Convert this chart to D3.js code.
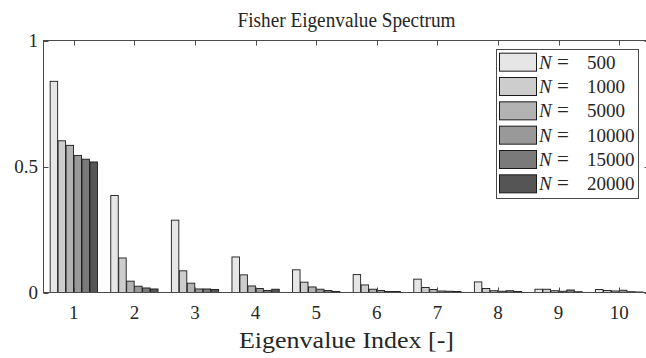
<!DOCTYPE html>
<html>
<head>
<meta charset="utf-8">
<script src="https://cdn.jsdelivr.net/npm/d3@7"></script>
<style>
  body { margin: 0; background: #fff; }
  svg { display: block; }
  text { font-family: "Liberation Serif", "DejaVu Serif", serif; fill: #262626; }
</style>
</head>
<body>
<svg id="chart" width="646" height="358"></svg>
<script>
// eigenvalue index
const indices = [1, 2, 3, 4, 5, 6, 7, 8, 9, 10];
// sample sizes (legend entries)
const sampleSizes = ['500', '1000', '5000', '10000', '15000', '20000'];
// normalized eigenvalues per sample size
const n500   = [0.838, 0.385, 0.287, 0.141, 0.090, 0.071, 0.053, 0.042, 0.013, 0.012];
const n1000  = [0.602, 0.137, 0.086, 0.070, 0.041, 0.030, 0.020, 0.016, 0.013, 0.008];
const n5000  = [0.584, 0.045, 0.037, 0.026, 0.022, 0.013, 0.012, 0.007, 0.007, 0.006];
const n10000 = [0.544, 0.025, 0.014, 0.016, 0.013, 0.008, 0.006, 0.005, 0.005, 0.009];
const n15000 = [0.529, 0.018, 0.014, 0.008, 0.008, 0.004, 0.005, 0.007, 0.010, 0.003];
const n20000 = [0.518, 0.014, 0.012, 0.013, 0.004, 0.004, 0.004, 0.004, 0.003, 0.002];
const yTicks = [0, 0.5, 1];
const yTickLabels = ['0', '0.5', '1'];

const seriesValues = [n500, n1000, n5000, n10000, n15000, n20000];
const colors = ['#e6e6e6', '#cdcdcd', '#b3b3b3', '#999999', '#7a7a7a', '#555555'];

const svg = d3.select('#chart');
const plotLeft = 43.5, plotRight = 649.5, plotTop = 40.5, plotBottom = 292.5;

const x = d3.scaleLinear().domain([0.5, 10.5]).range([plotLeft, plotRight]);
const y = d3.scaleLinear().domain([0, 1]).range([plotBottom, plotTop]);
// position of each series inside a group, in index units
const sub = d3.scaleBand().domain(sampleSizes).range([-0.39, 0.39]).paddingInner(0.06);

const groups = svg.append('g').attr('class', 'bars');
sampleSizes.forEach((s, si) => {
  groups.selectAll('rect.s' + si)
    .data(seriesValues[si].map((v, i) => ({ idx: indices[i], v: v })))
    .enter()
    .append('rect')
    .attr('class', 's' + si)
    .attr('x', d => x(d.idx + sub(s)))
    .attr('width', x(sub.bandwidth()) - x(0))
    .attr('y', d => y(d.v))
    .attr('height', d => y(0) - y(d.v))
    .attr('fill', colors[si])
    .attr('stroke', '#1a1a1a')
    .attr('stroke-width', 0.9);
});

// axes box
const axisColor = '#4a4a4a';
const tickLen = 5;
svg.append('rect')
  .attr('x', plotLeft).attr('y', plotTop)
  .attr('width', plotRight - plotLeft).attr('height', plotBottom - plotTop)
  .attr('fill', 'none').attr('stroke', axisColor).attr('stroke-width', 1);

// x ticks top and bottom
svg.append('g').selectAll('line.xb')
  .data(indices).enter().append('line')
  .attr('x1', d => Math.round(x(d)) + 0.5).attr('x2', d => Math.round(x(d)) + 0.5)
  .attr('y1', plotBottom).attr('y2', plotBottom - tickLen)
  .attr('stroke', axisColor);
svg.append('g').selectAll('line.xt')
  .data(indices).enter().append('line')
  .attr('x1', d => Math.round(x(d)) + 0.5).attr('x2', d => Math.round(x(d)) + 0.5)
  .attr('y1', plotTop).attr('y2', plotTop + tickLen)
  .attr('stroke', axisColor);

// y ticks left and right
svg.append('g').selectAll('line.yl')
  .data(yTicks).enter().append('line')
  .attr('x1', plotLeft).attr('x2', plotLeft + tickLen)
  .attr('y1', d => Math.round(y(d)) + 0.5).attr('y2', d => Math.round(y(d)) + 0.5)
  .attr('stroke', axisColor);
svg.append('g').selectAll('line.yr')
  .data(yTicks).enter().append('line')
  .attr('x1', plotRight).attr('x2', plotRight - tickLen)
  .attr('y1', d => Math.round(y(d)) + 0.5).attr('y2', d => Math.round(y(d)) + 0.5)
  .attr('stroke', axisColor);

// tick labels
svg.append('g').selectAll('text')
  .data(indices).enter().append('text')
  .attr('x', d => x(d)).attr('y', 319)
  .attr('text-anchor', 'middle').attr('font-size', 19)
  .text(d => d);
svg.append('g').selectAll('text')
  .data(yTicks).enter().append('text')
  .attr('x', 38).attr('y', d => y(d) + 6)
  .attr('text-anchor', 'end').attr('font-size', 19)
  .text((d, i) => yTickLabels[i]);

// title and axis label
svg.append('text')
  .attr('x', (plotLeft + plotRight) / 2).attr('y', 27)
  .attr('text-anchor', 'middle').attr('font-size', 21)
  .attr('textLength', 218).attr('lengthAdjust', 'spacingAndGlyphs')
  .text('Fisher Eigenvalue Spectrum');
svg.append('text')
  .attr('x', (plotLeft + plotRight) / 2).attr('y', 348)
  .attr('text-anchor', 'middle').attr('font-size', 24)
  .attr('textLength', 215).attr('lengthAdjust', 'spacingAndGlyphs')
  .text('Eigenvalue Index [-]');

// legend
const legend = svg.append('g');
legend.append('rect')
  .attr('x', 496.5).attr('y', 49.5).attr('width', 142).attr('height', 149)
  .attr('fill', '#fff').attr('stroke', axisColor);
const rowY = d3.scaleBand().domain(sampleSizes).range([50, 196]);
const rows = legend.selectAll('g.row').data(sampleSizes).enter().append('g');
rows.append('rect')
  .attr('x', 499.5).attr('y', d => rowY(d) + rowY.bandwidth() / 2 - 9)
  .attr('width', 37).attr('height', 18)
  .attr('fill', (d, i) => colors[i]).attr('stroke', '#1a1a1a');
const baseY = d => rowY(d) + rowY.bandwidth() / 2 + 6.5;
rows.append('text')
  .attr('x', 539).attr('y', baseY)
  .attr('font-size', 19).attr('font-style', 'italic')
  .text('N');
rows.append('text')
  .attr('x', 563).attr('y', baseY)
  .attr('text-anchor', 'middle').attr('font-size', 21)
  .text('=');
rows.append('text')
  .attr('x', 587).attr('y', baseY)
  .attr('font-size', 19)
  .text(d => d);
</script>
</body>
</html>
